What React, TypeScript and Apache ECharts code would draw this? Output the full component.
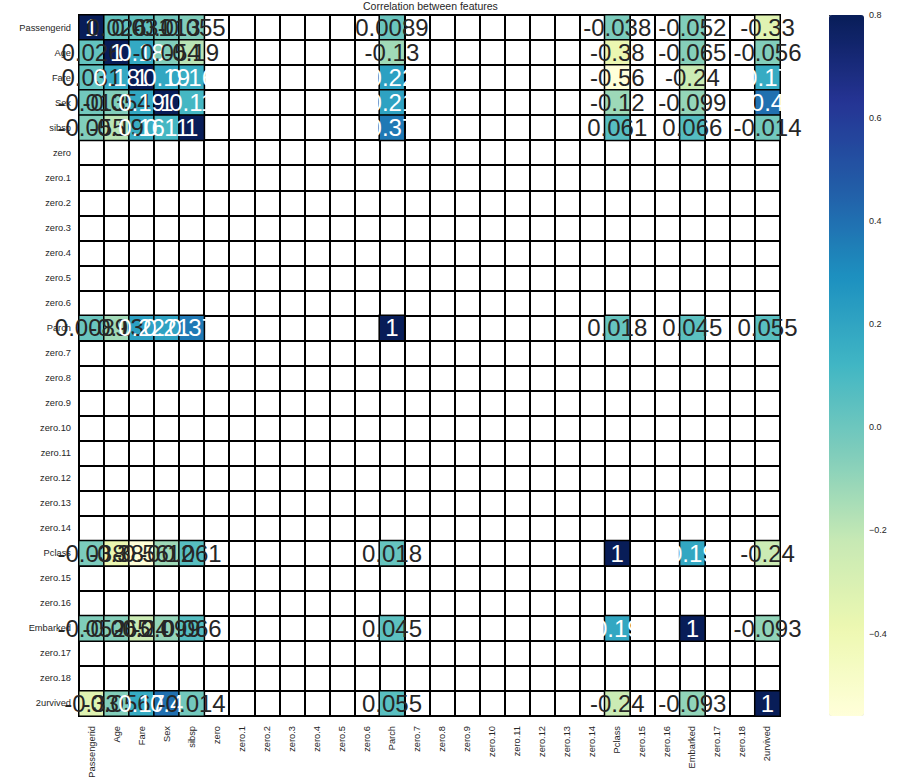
import React, { useEffect, useRef } from "react";
import * as echarts from "echarts";

// Axis categories (rows top-to-bottom, columns left-to-right)
const categories = [
  "Passengerid", "Age", "Fare", "Sex", "sibsp",
  "zero", "zero.1", "zero.2", "zero.3", "zero.4", "zero.5", "zero.6",
  "Parch",
  "zero.7", "zero.8", "zero.9", "zero.10", "zero.11", "zero.12", "zero.13", "zero.14",
  "Pclass", "zero.15", "zero.16", "Embarked", "zero.17", "zero.18", "2urvived",
];

// Features with a defined correlation (all "zero" columns are NaN)
const features = ["Passengerid", "Age", "Fare", "Sex", "sibsp", "Parch", "Pclass", "Embarked", "2urvived"];

const corrPassengerid = [1, 0.026, 0.031, -0.013, -0.055, 0.0089, -0.038, -0.052, -0.33];
const corrAge = [0.026, 1, 0.18, -0.054, -0.19, -0.13, -0.38, -0.065, -0.056];
const corrFare = [0.031, 0.18, 1, 0.19, 0.16, 0.22, -0.56, -0.24, 0.17];
const corrSex = [-0.013, -0.054, 0.19, 1, 0.11, 0.21, -0.12, -0.099, 0.4];
const corrSibsp = [-0.055, -0.19, 0.16, 0.11, 1, 0.37, 0.061, 0.066, -0.014];
const corrParch = [0.0089, -0.13, 0.22, 0.21, 0.37, 1, 0.018, 0.045, 0.055];
const corrPclass = [-0.038, -0.38, -0.56, -0.12, 0.061, 0.018, 1, 0.19, -0.24];
const corrEmbarked = [-0.052, -0.065, -0.24, -0.099, 0.066, 0.045, 0.19, 1, -0.093];
const corrSurvived = [-0.33, -0.056, 0.17, 0.4, -0.014, 0.055, -0.24, -0.093, 1];

const corrRows = [
  corrPassengerid, corrAge, corrFare, corrSex, corrSibsp,
  corrParch, corrPclass, corrEmbarked, corrSurvived,
];

const colorbarTicks = [-0.4, -0.2, 0, 0.2, 0.4, 0.6, 0.8];
const vmin = -0.56;
const vmax = 0.8;

// matplotlib YlGnBu
const palette = ["#ffffd9", "#edf8b1", "#c7e9b4", "#7fcdbb", "#41b6c4", "#1d91c0", "#225ea8", "#253494", "#081d58"];

const FONT = "'Liberation Sans', Arial, Helvetica, sans-serif";
const TEXT = "#262626";

function hexToRgb(h: string) {
  const n = parseInt(h.slice(1), 16);
  return [(n >> 16) & 255, (n >> 8) & 255, n & 255].map((c) => c / 255);
}

function colorAt(t: number) {
  const tt = Math.max(0, Math.min(1, t)) * (palette.length - 1);
  const i = Math.min(palette.length - 2, Math.floor(tt));
  const f = tt - i;
  const a = hexToRgb(palette[i]);
  const b = hexToRgb(palette[i + 1]);
  return a.map((c, k) => c + (b[k] - c) * f);
}

function luminance(rgb: number[]) {
  const lin = rgb.map((c) => (c <= 0.03928 ? c / 12.92 : Math.pow((c + 0.055) / 1.055, 2.4)));
  return 0.2126 * lin[0] + 0.7152 * lin[1] + 0.0722 * lin[2];
}

function fmt(v: number) {
  return String(Number(v.toPrecision(2)));
}

function buildData() {
  const out: any[] = [];
  corrRows.forEach((row, i) => {
    row.forEach((v, j) => {
      const x = categories.indexOf(features[j]);
      const y = categories.indexOf(features[i]);
      const clamped = Math.max(vmin, Math.min(vmax, v));
      const lum = luminance(colorAt((clamped - vmin) / (vmax - vmin)));
      out.push({
        value: [x, y, v, clamped],
        label: { color: lum > 0.408 ? TEXT : "#ffffff" },
      });
    });
  });
  return out;
}

export default function App() {
  const ref = useRef<HTMLDivElement>(null);

  useEffect(() => {
    if (!ref.current) return;
    const chart = echarts.init(ref.current, undefined, { renderer: "svg" });
    const gridLine = { color: "#000000", width: 2 };
    chart.setOption({
      animation: false,
      backgroundColor: "#ffffff",
      textStyle: { fontFamily: FONT },
      title: {
        text: "Correlation between features",
        left: 363,
        top: 0,
        padding: 0,
        textStyle: { fontSize: 10.5, fontWeight: "normal", color: TEXT, fontFamily: FONT, lineHeight: 12 },
      },
      grid: [
        { left: 79, top: 15, width: 701, height: 701 },
        { left: 829, top: 15, width: 35, height: 701 },
      ],
      xAxis: [
        {
          type: "category",
          gridIndex: 0,
          data: categories,
          position: "bottom",
          axisLine: { show: true, lineStyle: gridLine },
          axisTick: { show: false },
          axisLabel: { interval: 0, rotate: 90, fontSize: 9.3, color: TEXT, margin: 10, fontFamily: FONT },
          splitLine: { show: true, interval: 0, lineStyle: gridLine },
        },
        { type: "value", gridIndex: 1, show: false, min: 0, max: 1 },
      ],
      yAxis: [
        {
          type: "category",
          gridIndex: 0,
          data: categories,
          inverse: true,
          axisLine: { show: true, lineStyle: gridLine },
          axisTick: { show: false },
          axisLabel: { interval: 0, fontSize: 9.3, color: TEXT, margin: 8, fontFamily: FONT },
          splitLine: { show: true, interval: 0, lineStyle: gridLine },
        },
        {
          type: "value",
          gridIndex: 1,
          min: vmin,
          max: vmax,
          position: "right",
          axisLine: { show: false },
          axisTick: { show: true, length: 4, customValues: colorbarTicks, lineStyle: { color: TEXT, width: 1 } },
          axisLabel: {
            customValues: colorbarTicks,
            fontSize: 9,
            color: TEXT,
            margin: 5,
            fontFamily: FONT,
            formatter: (v: number) => v.toFixed(1).replace("-", "\u2212"),
          },
          splitLine: { show: false },
        },
      ],
      visualMap: {
        type: "continuous",
        min: vmin,
        max: vmax,
        dimension: 3,
        seriesIndex: 0,
        calculable: false,
        hoverLink: false,
        orient: "vertical",
        left: 829,
        top: 15,
        padding: 0,
        itemWidth: 35,
        itemHeight: 701,
        inRange: { color: palette },
      },
      series: [
        {
          type: "heatmap",
          xAxisIndex: 0,
          yAxisIndex: 0,
          data: buildData(),
          itemStyle: { borderColor: "#000000", borderWidth: 1.5 },
          label: {
            show: true,
            fontSize: 24,
            fontFamily: FONT,
            formatter: (p: any) => fmt(p.value[2]),
          },
          emphasis: { disabled: true },
        },
      ],
    });
    return () => chart.dispose();
  }, []);

  return (
    <div
      ref={ref}
      style={{ position: "fixed", left: 0, top: 0, width: 903, height: 784, background: "#fff" }}
    />
  );
}
